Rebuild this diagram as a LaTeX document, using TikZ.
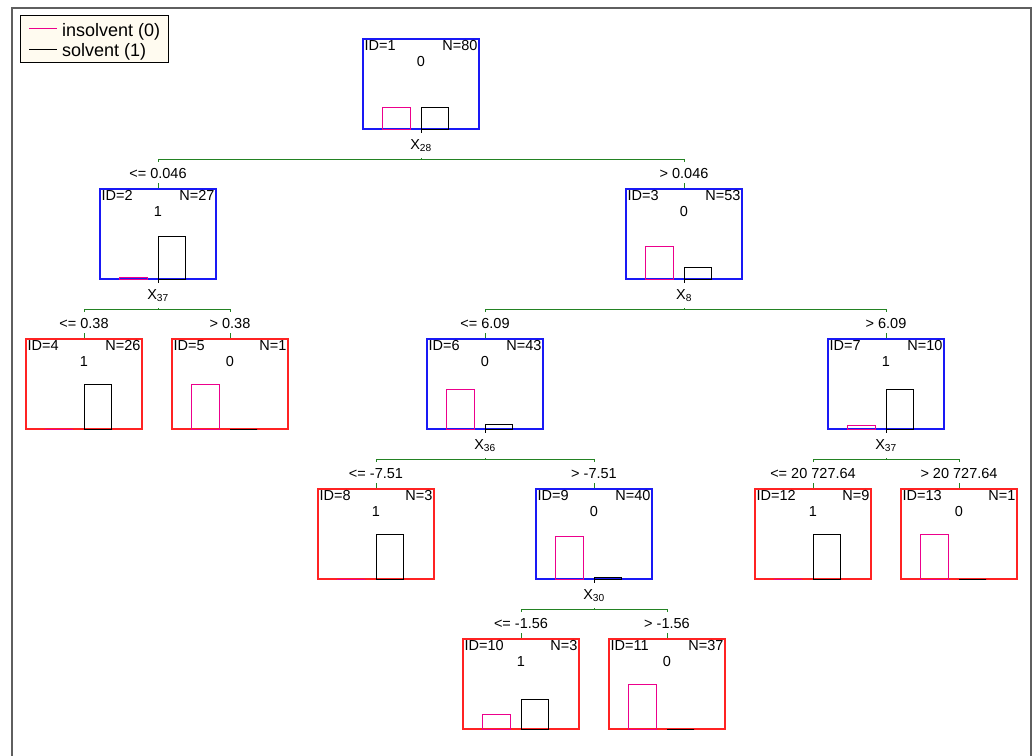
\documentclass[tikz,border=0pt]{standalone}
\usepackage{fontspec}
\setmainfont{Liberation Sans}
\usetikzlibrary{positioning}

\definecolor{nodeblue}{RGB}{25,25,245}
\definecolor{leafred}{RGB}{255,35,35}
\definecolor{splitgreen}{RGB}{35,130,35}
\definecolor{legendbg}{RGB}{255,251,240}
\definecolor{framegray}{RGB}{95,95,95}

% tree node: name, position, colour, ID, N, class, magenta bar, black bar
\newcommand{\treenode}[8]{%
    \node[box, draw=#3] (#1) at (#2) {};
    \node[txt, anchor=north west] (#1id) at (#1.north west) {ID=#4};
    \node[txt, anchor=north east] (#1n) at (#1.north east) {N=#5};
    \node[txt] (#1c) at ([yshift=-23pt]#1.north) {#6};
    \draw[bar, magenta] ([xshift=-39pt]#1.south) rectangle ++(28,-#7);
    \draw[bar, black] (#1.south) rectangle ++(27,-#8);
}

% split: parent, variable, left child, right child, left rule, right rule
\newcommand{\splitnode}[6]{%
    \node[splitlbl, anchor=base] (s#1) at ([yshift=-20pt]#1.south) {X\textsubscript{#2}};
    \coordinate (j#1) at ([yshift=-30pt]#1.south);
    \draw[bar, black] (#1.south) -- ++(0,3);
    \draw[branch] (j#1) -- ++(0,-2);
    \draw[branch] (j#1 -| #3.north) ++(0,2) -- (j#1 -| #3.north) -- (j#1 -| #4.north) -- ++(0,2);
    \draw[branch] (#3.north) -- ++(0,-5);
    \draw[branch] (#4.north) -- ++(0,-5);
    \node[txt, anchor=base] (r#3) at (j#1 -| #3.north) [yshift=-18.5pt] {#5};
    \node[txt, anchor=base] (r#4) at (j#1 -| #4.north) [yshift=-18.5pt] {#6};
}

\begin{document}
\begin{tikzpicture}[x=1pt, y=-1pt,
        box/.style={rectangle, minimum width=116pt, minimum height=90pt, inner sep=0pt, line width=1.25pt},
        txt/.style={inner sep=2pt, font=\fontsize{14.5}{16}\selectfont},
        splitlbl/.style={inner sep=0pt, font=\fontsize{14.5}{16}\selectfont},
        legtxt/.style={inner sep=0pt, font=\fontsize{18}{20}\selectfont},
        bar/.style={line width=1pt},
        branch/.style={splitgreen, line width=1pt}]
    \useasboundingbox (0,0) rectangle (1035,755);
    \draw[framegray, line width=1.5pt] (12,8) rectangle (1031,775);

    % legend
    \node[draw, fill=legendbg, line width=0.8pt, minimum width=148pt, minimum height=47pt, inner sep=0pt, anchor=north west] (leg) at (20,15) {};
    \draw[magenta, line width=1pt] (leg.north west) ++(9,13) -- ++(28,0);
    \draw[black, line width=1pt] (leg.north west) ++(9,34) -- ++(28,0);
    \node[legtxt, anchor=base west] (ins) at (62,36) {insolvent (0)};
    \node[legtxt, anchor=base west] (sol) at (62,56) {solvent (1)};

    % nodes
    \treenode{1}{421,84}{nodeblue}{1}{80}{0}{22.5}{22.5}
    \treenode{2}{158,234}{nodeblue}{2}{27}{1}{1.7}{43.3}
    \treenode{3}{684,234}{nodeblue}{3}{53}{0}{33.1}{11.9}
    \treenode{4}{84,384}{leafred}{4}{26}{1}{0}{45}
    \treenode{5}{230,384}{leafred}{5}{1}{0}{45}{0}
    \treenode{6}{485,384}{nodeblue}{6}{43}{0}{39.8}{5.2}
    \treenode{7}{886,384}{nodeblue}{7}{10}{1}{4.5}{40.5}
    \treenode{8}{376,534}{leafred}{8}{3}{1}{0}{45}
    \treenode{9}{594,534}{nodeblue}{9}{40}{0}{42.75}{2.25}
    \treenode{12}{813,534}{leafred}{12}{9}{1}{0}{45}
    \treenode{13}{959,534}{leafred}{13}{1}{0}{45}{0}
    \treenode{10}{521,684}{leafred}{10}{3}{1}{15}{30}
    \treenode{11}{667,684}{leafred}{11}{37}{0}{45}{0}

    % splits
    \splitnode{1}{28}{2}{3}{<= 0.046}{> 0.046}
    \splitnode{2}{37}{4}{5}{<= 0.38}{> 0.38}
    \splitnode{3}{8}{6}{7}{<= 6.09}{> 6.09}
    \splitnode{6}{36}{8}{9}{<= -7.51}{> -7.51}
    \splitnode{7}{37}{12}{13}{<= 20 727.64}{> 20 727.64}
    \splitnode{9}{30}{10}{11}{<= -1.56}{> -1.56}
\end{tikzpicture}
\end{document}
